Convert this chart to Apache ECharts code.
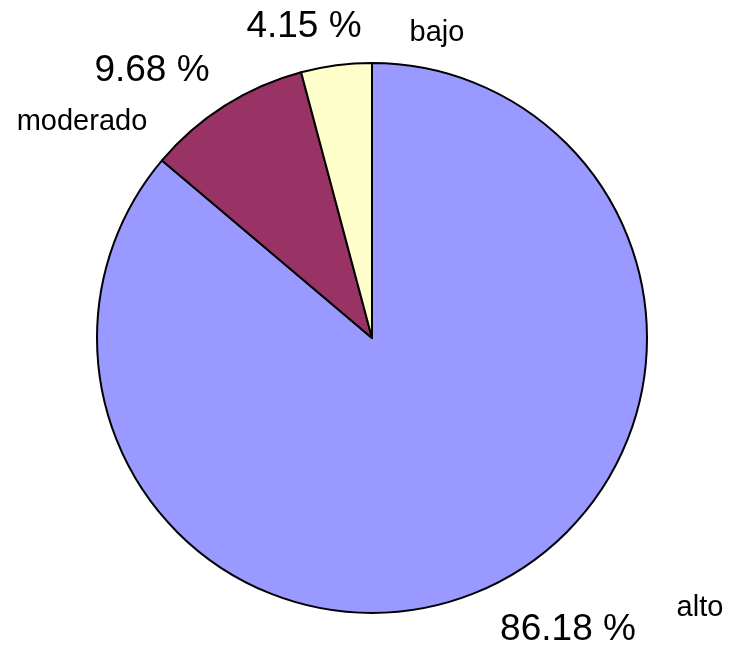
<!DOCTYPE html>
<html>
<head>
<meta charset="utf-8">
<script src="https://cdn.jsdelivr.net/npm/echarts@6/dist/echarts.min.js"></script>
<style>
  html, body { margin: 0; padding: 0; background: #fff; }
  #chart { width: 729px; height: 646px; }
</style>
</head>
<body>
<div id="chart"></div>
<script>
const categories = ['alto', 'moderado', 'bajo']
const percents = [86.18, 9.68, 4.15]
const colors = ['#9999ff', '#993366', '#ffffcc']

// where each label sits (px), by slice
const pctPos = [[568, 630], [152, 71], [304, 27]]
const namePos = [[700, 608], [82, 122], [437, 33]]

const chart = echarts.init(document.getElementById('chart'))

const slices = categories.map((name, i) => ({
  name,
  value: percents[i],
  itemStyle: { color: colors[i] }
}))

const base = {
  type: 'pie',
  center: [372, 338],
  radius: 275,
  startAngle: 90,
  clockwise: true,
  animation: false,
  labelLine: { show: false },
  emphasis: { disabled: true }
}

chart.setOption({
  textStyle: { fontFamily: 'Liberation Sans, Arial, sans-serif' },
  series: [
    {
      ...base,
      data: slices,
      itemStyle: { borderColor: '#000', borderWidth: 2 },
      label: {
        show: true,
        position: 'outside',
        color: '#000',
        fontSize: 37,
        formatter: p => p.value.toFixed(2) + ' %'
      },
      labelLayout: p => ({
        x: pctPos[p.dataIndex][0],
        y: pctPos[p.dataIndex][1],
        align: 'center',
        verticalAlign: 'middle'
      })
    },
    {
      ...base,
      silent: true,
      data: slices.map(s => ({ ...s, itemStyle: { color: 'transparent' } })),
      itemStyle: { borderWidth: 0 },
      label: {
        show: true,
        position: 'outside',
        color: '#000',
        fontSize: 29,
        formatter: '{b}'
      },
      labelLayout: p => ({
        x: namePos[p.dataIndex][0],
        y: namePos[p.dataIndex][1],
        align: 'center',
        verticalAlign: 'middle'
      })
    }
  ]
})
</script>
</body>
</html>
